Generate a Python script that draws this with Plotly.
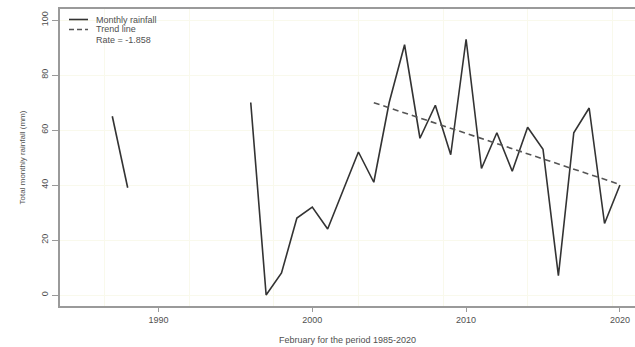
import plotly.graph_objects as go

# February rainfall totals (mm), gaps where no record exists
years = list(range(1985, 2021))
rainfall = [None, None, 65, 39, None, None, None, None, None, None, None,
            70, 0, 8, 28, 32, 24, 38, 52, 41, 70, 91, 57, 69, 51, 93,
            46, 59, 45, 61, 53, 7, 59, 68, 26, 40]

# Linear trend over the continuous record 2004-2020
trend_start, trend_end = 2004, 2020
rate = -1.858

x_ticks = [1990, 2000, 2010, 2020]
y_ticks = [0, 20, 40, 60, 80, 100]

legend_labels = ["Monthly rainfall", "Trend line", f"Rate = {rate}"]

# trend line evaluated from the stated rate, passing through the period mean
seg = [(y, v) for y, v in zip(years, rainfall)
       if trend_start <= y <= trend_end and v is not None]
mx = sum(y for y, _ in seg) / len(seg)
my = sum(v for _, v in seg) / len(seg)
trend_x = [trend_start, trend_end]
trend_y = [my + rate * (x - mx) for x in trend_x]

W, H = 635, 347
L, R, T, B = 60, 0, 9, 41
font_family = "Liberation Sans, Arial, sans-serif"
text_col = "#505050"
axis_col = "#9a9a9a"
grid_col = "#f9f9ec"

fig = go.Figure()
# empty trace to activate the grid-only axis
fig.add_trace(go.Scatter(x=[None], y=[None], xaxis="x2", showlegend=False,
                         hoverinfo="skip"))
fig.add_trace(go.Scatter(x=years, y=rainfall, mode="lines",
                         line=dict(color="#333333", width=1.6),
                         connectgaps=False, showlegend=False))
fig.add_trace(go.Scatter(x=trend_x, y=trend_y, mode="lines",
                         line=dict(color="#555555", width=1.6, dash="6px,4px"),
                         showlegend=False))

# hand-drawn legend in pixel space
pw, ph = W - L - R, H - T - B
def px(xp):
    return (xp - L) / pw
def py(yp):
    return 1 - (yp - T) / ph

rows = [19.5, 29.5, 39.5]
fig.add_shape(type="line", xref="paper", yref="paper",
              x0=px(69), x1=px(88), y0=py(rows[0]), y1=py(rows[0]),
              line=dict(color="#333333", width=1.6))
fig.add_shape(type="line", xref="paper", yref="paper",
              x0=px(69), x1=px(88), y0=py(rows[1]), y1=py(rows[1]),
              line=dict(color="#555555", width=1.6, dash="5px,3px"))
for lab, yr in zip(legend_labels, rows):
    fig.add_annotation(text=lab, xref="paper", yref="paper",
                       x=px(94), y=py(yr), xanchor="left", yanchor="middle",
                       showarrow=False,
                       font=dict(size=9, color=text_col, family=font_family))

x_range = [1983.6, 2020.98]
fig.update_layout(
    width=W, height=H,
    margin=dict(l=L, r=R, t=T, b=B),
    paper_bgcolor="white", plot_bgcolor="white",
    font=dict(family=font_family, size=9, color=text_col),
    xaxis=dict(range=x_range, tickvals=x_ticks, ticks="outside", ticklen=4,
               tickcolor=axis_col, showgrid=False, zeroline=False,
               showline=True, linecolor=axis_col, linewidth=2, mirror=True,
               title=dict(text="February for the period 1985-2020",
                          font=dict(size=9), standoff=13),
               tickfont=dict(size=9)),
    xaxis2=dict(range=x_range, overlaying="x", tick0=1986.5, dtick=5.5,
                showgrid=True, gridcolor=grid_col, showticklabels=False,
                ticks="", zeroline=False, showline=False),
    yaxis=dict(range=[-4, 104], tickvals=y_ticks, ticks="outside", ticklen=6,
               tickcolor=axis_col, tickangle=-90, showgrid=True,
               gridcolor=grid_col, zeroline=False, showline=True,
               linecolor=axis_col, linewidth=2,
               title=dict(text="Total monthly rainfall (mm)",
                          font=dict(size=8), standoff=14),
               tickfont=dict(size=9)),
    showlegend=False,
)

fig.write_html("out.html")
